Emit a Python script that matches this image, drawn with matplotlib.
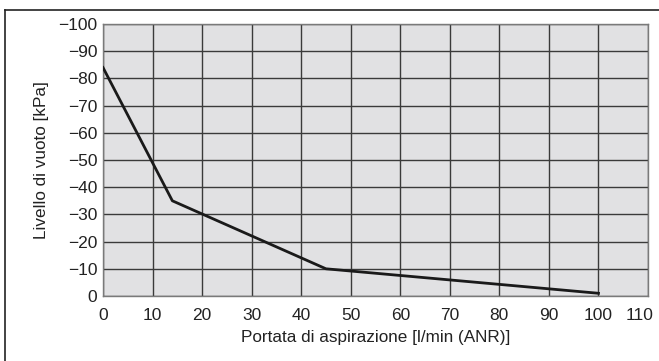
import matplotlib
matplotlib.use("Agg")
import matplotlib.pyplot as plt
from matplotlib.lines import Line2D
from matplotlib.transforms import ScaledTranslation

# curve points
flow = [0, 14, 45, 100]          # l/min (ANR)
vacuum = [-84, -35, -10, -1]     # kPa

x_ticks = list(range(0, 111, 10))
y_ticks = list(range(-100, 1, 10))

plt.rcParams['font.family'] = ['Liberation Sans', 'DejaVu Sans']

fig = plt.figure(figsize=(6.59, 3.61), dpi=100)
ax = fig.add_axes([103 / 659, 65 / 361, 545 / 659, 272 / 361])

ax.set_facecolor('#e1e1e3')
ax.set_xlim(0, 110)
ax.set_ylim(0, -100)
ax.set_xticks(x_ticks)
ax.set_yticks(y_ticks)
ax.set_yticklabels([f"\u2212{abs(v)}" if v < 0 else "0" for v in y_ticks])
ax.tick_params(length=0, labelsize=12.5, colors='#222222')
ax.tick_params(axis='x', pad=9)
ax.tick_params(axis='y', pad=4)

# last x label sits a little left so it stays inside the figure
last = ax.get_xticklabels()[-1]
last.set_transform(last.get_transform() + ScaledTranslation(-8 / 100, 0, fig.dpi_scale_trans))

ax.grid(True, which='major', color='#3a3a3a', linewidth=1.0)
ax.set_axisbelow(True)
for s in ax.spines.values():
    s.set_color('#7a7a7a')
    s.set_linewidth(1.0)

ax.plot(flow, vacuum, color='#1a1a1a', linewidth=2.0, zorder=3)

ax.set_xlabel("Portata di aspirazione [l/min (ANR)]", fontsize=12.3, color='#222222', labelpad=5)
ax.set_ylabel("Livello di vuoto [kPa]", fontsize=12.3, color='#222222', labelpad=7)

# frame lines of the original figure box
fig.add_artist(Line2D([5 / 659, 1.0], [1 - 10 / 361, 1 - 10 / 361], color='#222222', linewidth=1.2))
fig.add_artist(Line2D([5 / 659, 5 / 659], [0, 1 - 10 / 361], color='#222222', linewidth=1.2))

fig.savefig("out.png", dpi=100)
